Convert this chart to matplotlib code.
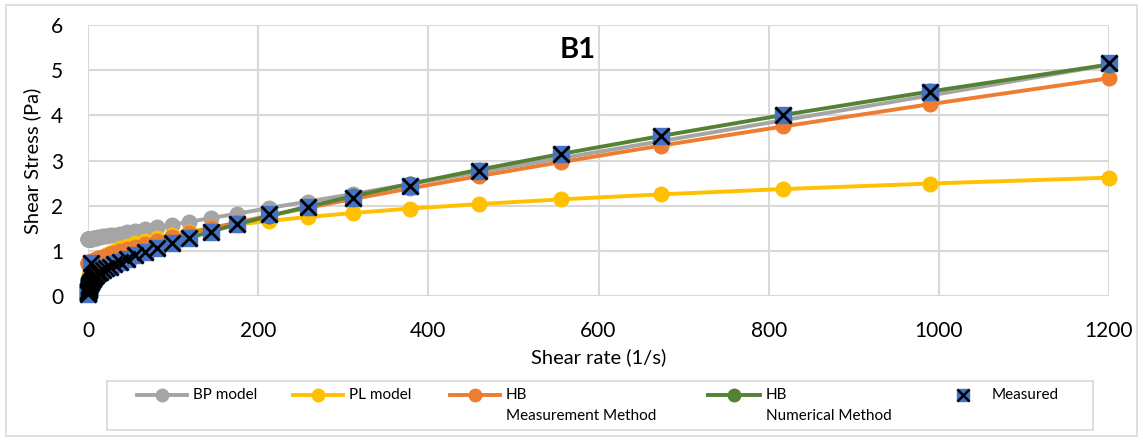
import matplotlib.pyplot as plt
from matplotlib.lines import Line2D
from matplotlib.patches import Rectangle

# shear rates shared by the model curves (1/s)
shear_rate = [0.25, 0.31, 0.37, 0.45, 0.55, 0.66, 0.80, 0.97, 1.18, 1.43,
              1.73, 2.10, 2.55, 3.09, 3.74, 4.54, 5.50, 6.66, 8.1, 9.8,
              11.9, 14.4, 17.4, 21.1, 25.6, 31.1, 37.7, 45.7, 55.3, 67.1,
              81.3, 98.5, 119, 145, 175, 213, 258, 312, 379, 459,
              556, 674, 817, 990, 1200]

# Bingham plastic model (Pa)
bp_model = [1.26, 1.26, 1.26, 1.26, 1.26, 1.26, 1.26, 1.26, 1.26, 1.26,
            1.27, 1.27, 1.27, 1.27, 1.27, 1.27, 1.28, 1.28, 1.29, 1.29,
            1.30, 1.31, 1.32, 1.33, 1.34, 1.36, 1.38, 1.41, 1.44, 1.48,
            1.52, 1.58, 1.64, 1.73, 1.82, 1.95, 2.09, 2.26, 2.48, 2.74,
            3.05, 3.43, 3.89, 4.44, 5.12]

# power law model (Pa)
pl_model = [0.283, 0.299, 0.314, 0.330, 0.348, 0.365, 0.384, 0.404, 0.425, 0.447,
            0.470, 0.495, 0.520, 0.547, 0.576, 0.606, 0.637, 0.670, 0.705, 0.741,
            0.780, 0.820, 0.862, 0.906, 0.954, 1.004, 1.056, 1.110, 1.168, 1.228,
            1.292, 1.359, 1.428, 1.504, 1.580, 1.663, 1.749, 1.839, 1.936, 2.035,
            2.140, 2.251, 2.368, 2.490, 2.620]

# Herschel-Bulkley, measurement method (Pa)
hb_measurement = [0.725, 0.726, 0.727, 0.729, 0.730, 0.732, 0.733, 0.736, 0.738, 0.741,
                  0.744, 0.748, 0.753, 0.758, 0.765, 0.772, 0.780, 0.790, 0.802, 0.815,
                  0.831, 0.848, 0.869, 0.893, 0.922, 0.955, 0.993, 1.038, 1.089, 1.149,
                  1.218, 1.299, 1.392, 1.504, 1.628, 1.780, 1.951, 2.149, 2.384, 2.653,
                  2.965, 3.331, 3.754, 4.248, 4.821]

# Herschel-Bulkley, numerical method (Pa)
hb_numerical = [0.314, 0.317, 0.319, 0.321, 0.325, 0.328, 0.332, 0.336, 0.341, 0.347,
                0.354, 0.362, 0.370, 0.380, 0.392, 0.405, 0.419, 0.436, 0.456, 0.477,
                0.503, 0.531, 0.563, 0.601, 0.643, 0.692, 0.748, 0.811, 0.883, 0.966,
                1.059, 1.166, 1.286, 1.430, 1.586, 1.771, 1.978, 2.212, 2.486, 2.794,
                3.146, 3.545, 4.007, 4.529, 5.125]

# rheometer readings
measured_rate = [3.5, 0.25, 0.31, 0.37, 0.45, 0.55, 0.66, 0.80, 0.97, 1.18, 1.43,
                 1.73, 2.10, 2.55, 3.09, 3.74, 4.54, 5.50, 6.66, 8.1, 9.8,
                 11.9, 14.4, 17.4, 21.1, 25.6, 31.1, 37.7, 45.7, 55.3, 67.1,
                 81.3, 98.5, 119, 145, 175, 213, 258, 312, 379, 459,
                 556, 674, 817, 990, 1200]
measured_stress = [0.74, 0.04, 0.06, 0.08, 0.10, 0.12, 0.14, 0.16, 0.18, 0.20, 0.22,
                   0.24, 0.26, 0.28, 0.30, 0.32, 0.35, 0.38, 0.41, 0.44, 0.47,
                   0.50, 0.53, 0.57, 0.61, 0.65, 0.70, 0.76, 0.83, 0.90, 0.98,
                   1.06, 1.17, 1.28, 1.42, 1.59, 1.81, 1.98, 2.18, 2.44, 2.77,
                   3.14, 3.54, 4.00, 4.51, 5.15]

GRAY = '#a5a5a5'
YELLOW = '#ffc000'
ORANGE = '#ed7d31'
GREEN = '#548235'
BLUE = '#4472c4'
GRID = '#d9d9d9'
TEXT = '#000000'


def main():
    plt.rcParams['font.family'] = ['Lato', 'DejaVu Sans']

    W, H = 1143, 440
    fig = plt.figure(figsize=(W / 100, H / 100), dpi=100)

    # outer chart border
    fig.patches.append(Rectangle((6 / W, 1 - 436 / H), 1131 / W, 431 / H,
                                 transform=fig.transFigure, fill=False,
                                 edgecolor=GRID, lw=1.2))

    ax = fig.add_axes([88 / W, 1 - 296 / H, (1109 - 88) / W, (296 - 25) / H])

    line_kw = dict(lw=2.8, marker='o', ms=10.5, clip_on=False)
    ax.plot(shear_rate, bp_model, color=GRAY, zorder=3, **line_kw)
    ax.plot(shear_rate, pl_model, color=YELLOW, zorder=4, **line_kw)
    ax.plot(shear_rate, hb_measurement, color=ORANGE, zorder=5, **line_kw)
    ax.plot(shear_rate, hb_numerical, color=GREEN, zorder=6, **line_kw)
    ax.plot(measured_rate, measured_stress, ls='none', marker='s', ms=12,
            color=BLUE, zorder=7, clip_on=False)
    ax.plot(measured_rate, measured_stress, ls='none', marker='x', ms=11,
            mew=2.0, color='black', zorder=8, clip_on=False)

    ax.set_xlim(0, 1200)
    ax.set_ylim(0, 6)
    ax.set_xticks(range(0, 1201, 200))
    ax.set_yticks(range(0, 7))
    ax.grid(True, color=GRID, lw=1.5)
    ax.set_axisbelow(True)
    for s in ax.spines.values():
        s.set_visible(False)
    ax.tick_params(length=0, labelsize=15, colors=TEXT)
    ax.tick_params(axis='y', pad=18)
    ax.tick_params(axis='x', pad=18)

    ax.set_xlabel('Shear rate (1/s)', fontsize=14.5, labelpad=5)
    ax.set_ylabel('Shear Stress (Pa)', fontsize=14.5, labelpad=7)
    ax.text(0.48, 0.908, 'B1', transform=ax.transAxes, fontsize=21,
            fontweight='bold', ha='center', va='center')

    # legend box drawn in pixel units
    lax = fig.add_axes([107 / W, 1 - 430 / H, (1093 - 107) / W, (430 - 381) / H])
    lax.set_xlim(107, 1093)
    lax.set_ylim(430, 381)
    lax.set_xticks([])
    lax.set_yticks([])
    for s in lax.spines.values():
        s.set_color(GRID)
        s.set_linewidth(1.2)

    y1, y2 = 395, 416
    entries = [(137, 187, GRAY, 'BP model', None),
               (293, 343, YELLOW, 'PL model', None),
               (450, 500, ORANGE, 'HB', 'Measurement Method'),
               (708, 760, GREEN, 'HB', 'Numerical Method')]
    for x0, x1, c, lab1, lab2 in entries:
        lax.add_line(Line2D([x0, x1], [y1, y1], color=c, lw=2.8))
        lax.plot([(x0 + x1) / 2], [y1], marker='o', ms=9, color=c)
        lax.text(x1 + 6, y1, lab1, fontsize=11, va='center', ha='left')
        if lab2:
            lax.text(x1 + 6, y2, lab2, fontsize=11, va='center', ha='left')
    lax.plot([963], [y1], marker='s', ms=9, color=BLUE)
    lax.plot([963], [y1], marker='x', ms=8, mew=1.8, color='black')
    lax.text(992, y1, 'Measured', fontsize=11, va='center', ha='left')

    fig.savefig('out.png', dpi=100)


if __name__ == "__main__":
    main()
